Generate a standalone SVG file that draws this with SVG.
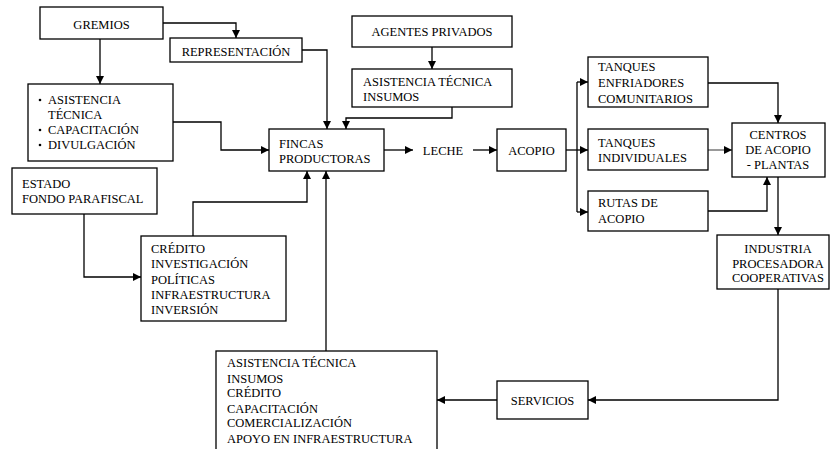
<svg xmlns="http://www.w3.org/2000/svg" width="831" height="449" viewBox="0 0 831 449">
  <style>
    .box { fill: #fff; stroke: #000; stroke-width: 1.3; }
    text { font-family: "Liberation Serif", "Times New Roman", serif; font-size: 12.5px; fill: #000; }
    .c { text-anchor: middle; }
    .link { fill: none; stroke: #000; stroke-width: 1.3; marker-end: url(#arrow); }
    .plain { fill: none; stroke: #000; stroke-width: 1.3; }
    .thin { fill: none; stroke: #000; stroke-width: 0.8; marker-end: url(#arrow); }
  </style>
  <defs>
    <marker id="arrow" markerUnits="userSpaceOnUse" markerWidth="10" markerHeight="10" refX="8" refY="4" orient="auto">
      <path d="M0,0 L8,4 L0,8 Z" fill="#000"/>
    </marker>
  </defs>
  <rect width="831" height="449" fill="#fff"/>

  <g id="connectors">
    <polyline class="link" points="163,23 236,23 236,38"/>
    <line class="link" x1="100" y1="39" x2="100" y2="84"/>
    <polyline class="link" points="302,50 327,50 327,129"/>
    <polyline class="link" points="173,122 221,122 221,150 269,150"/>
    <line class="link" x1="432" y1="47" x2="432" y2="69"/>
    <polyline class="link" points="452,107 452,118 346,118 346,129"/>
    <line class="link" x1="384" y1="150" x2="413" y2="150"/>
    <line class="link" x1="473" y1="150" x2="497" y2="150"/>
    <line class="plain" x1="566" y1="150" x2="577" y2="150"/>
    <line class="plain" x1="577" y1="82" x2="577" y2="212"/>
    <line class="link" x1="577" y1="82" x2="588" y2="82"/>
    <line class="link" x1="577" y1="150" x2="588" y2="150"/>
    <line class="link" x1="577" y1="212" x2="588" y2="212"/>
    <polyline class="link" points="708,83 778,83 778,123"/>
    <line class="thin" x1="708" y1="150" x2="732" y2="150"/>
    <polyline class="link" points="708,211 767,211 767,177"/>
    <line class="link" x1="778" y1="177" x2="778" y2="235"/>
    <polyline class="link" points="778,289 778,400 588,400"/>
    <line class="link" x1="497" y1="400" x2="437" y2="400"/>
    <line class="link" x1="326" y1="351" x2="326" y2="171"/>
    <polyline class="link" points="193,236 193,202 307,202 307,171"/>
    <polyline class="link" points="84,214 84,277 141,277"/>
  </g>

  <g id="gremios">
    <rect class="box" x="40" y="7" width="123" height="32"/>
    <text class="c" x="101.5" y="29">GREMIOS</text>
  </g>
  <g id="representacion">
    <rect class="box" x="170" y="38" width="132" height="24"/>
    <text class="c" x="236" y="56">REPRESENTACIÓN</text>
  </g>
  <g id="asistencia-gremios">
    <rect class="box" x="28" y="84" width="145" height="77"/>
    <circle cx="40" cy="100" r="1.3"/>
    <circle cx="40" cy="130" r="1.3"/>
    <circle cx="40" cy="145" r="1.3"/>
    <text x="48" y="104">ASISTENCIA</text>
    <text x="48" y="119">TÉCNICA</text>
    <text x="48" y="134">CAPACITACIÓN</text>
    <text x="48" y="149">DIVULGACIÓN</text>
  </g>
  <g id="agentes-privados">
    <rect class="box" x="352" y="16" width="160" height="31"/>
    <text class="c" x="432" y="36">AGENTES PRIVADOS</text>
  </g>
  <g id="asistencia-insumos">
    <rect class="box" x="352" y="69" width="160" height="38"/>
    <text x="363" y="86">ASISTENCIA TÉCNICA</text>
    <text x="363" y="101">INSUMOS</text>
  </g>
  <g id="fincas">
    <rect class="box" x="269" y="129" width="115" height="42"/>
    <text x="279" y="148">FINCAS</text>
    <text x="279" y="163">PRODUCTORAS</text>
  </g>
  <g id="leche">
    <text class="c" x="443" y="155">LECHE</text>
  </g>
  <g id="acopio">
    <rect class="box" x="497" y="129" width="69" height="42"/>
    <text class="c" x="531.5" y="155">ACOPIO</text>
  </g>
  <g id="tanques-enfriadores">
    <rect class="box" x="588" y="57" width="120" height="50"/>
    <text x="598" y="71">TANQUES</text>
    <text x="598" y="86.5">ENFRIADORES</text>
    <text x="598" y="102.5">COMUNITARIOS</text>
  </g>
  <g id="tanques-individuales">
    <rect class="box" x="588" y="129" width="120" height="41"/>
    <text x="598" y="147">TANQUES</text>
    <text x="598" y="161.5">INDIVIDUALES</text>
  </g>
  <g id="rutas-acopio">
    <rect class="box" x="588" y="191" width="120" height="40"/>
    <text x="598" y="207">RUTAS DE</text>
    <text x="598" y="222.5">ACOPIO</text>
  </g>
  <g id="centros-acopio">
    <rect class="box" x="732" y="123" width="93" height="54"/>
    <text class="c" x="778" y="139.3">CENTROS</text>
    <text class="c" x="778" y="154.3">DE ACOPIO</text>
    <text class="c" x="778" y="169.3">- PLANTAS</text>
  </g>
  <g id="industria">
    <rect class="box" x="717" y="235" width="112" height="54"/>
    <text class="c" x="778" y="252.7">INDUSTRIA</text>
    <text class="c" x="778" y="267.7">PROCESADORA</text>
    <text class="c" x="778" y="282.3">COOPERATIVAS</text>
  </g>
  <g id="estado">
    <rect class="box" x="12" y="168" width="145" height="46"/>
    <text x="22" y="188.3">ESTADO</text>
    <text x="22" y="203.3">FONDO PARAFISCAL</text>
  </g>
  <g id="credito">
    <rect class="box" x="141" y="236" width="145" height="85"/>
    <text x="151" y="253.3">CRÉDITO</text>
    <text x="151" y="268.3">INVESTIGACIÓN</text>
    <text x="151" y="284">POLÍTICAS</text>
    <text x="151" y="299.3">INFRAESTRUCTURA</text>
    <text x="151" y="314">INVERSIÓN</text>
  </g>
  <g id="servicios">
    <rect class="box" x="497" y="381" width="91" height="38"/>
    <text class="c" x="542.5" y="405">SERVICIOS</text>
  </g>
  <g id="servicios-lista">
    <rect class="box" x="216" y="351" width="221" height="110"/>
    <text x="227" y="367.3">ASISTENCIA TÉCNICA</text>
    <text x="227" y="382.7">INSUMOS</text>
    <text x="227" y="396.7">CRÉDITO</text>
    <text x="227" y="412.7">CAPACITACIÓN</text>
    <text x="227" y="427.3">COMERCIALIZACIÓN</text>
    <text x="227" y="442.7">APOYO EN INFRAESTRUCTURA</text>
  </g>
</svg>
